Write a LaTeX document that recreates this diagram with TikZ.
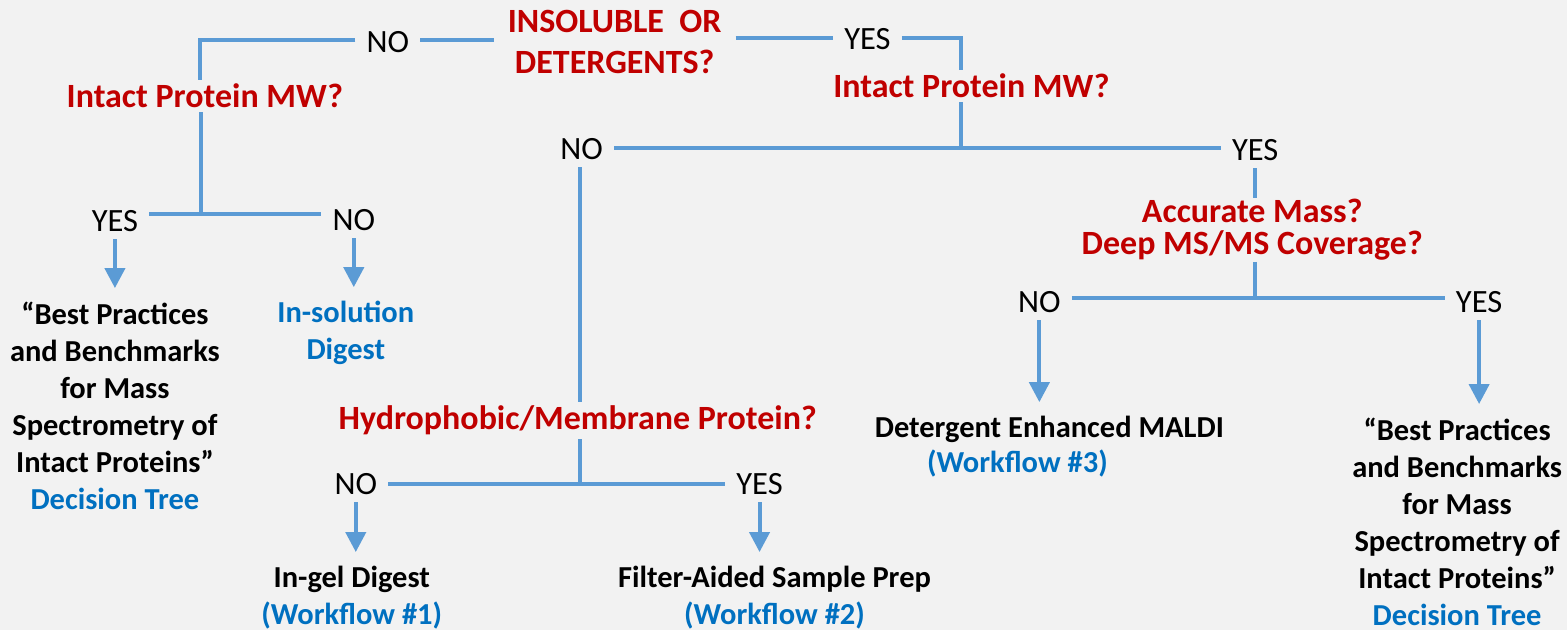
\documentclass[tikz,border=0pt]{standalone}
\usepackage{fontspec}
\setmainfont{Carlito}
\usepackage{tikz}
\usetikzlibrary{arrows.meta,positioning}
\definecolor{linkblue}{HTML}{5B9BD5}
\definecolor{askred}{HTML}{C00000}
\definecolor{refblue}{HTML}{0070C0}
\definecolor{paper}{HTML}{F2F2F2}

\begin{document}
\begin{tikzpicture}[x=1bp,y=-1bp,
  ask/.style={anchor=base,text=askred,align=center,inner xsep=14bp,inner ysep=4bp,
    font=\fontsize{34bp}{41bp}\selectfont\bfseries},
  ans/.style={anchor=base,inner xsep=11bp,inner ysep=7bp,font=\fontsize{32.5bp}{38bp}\selectfont},
  res/.style={anchor=base,align=center,inner xsep=6bp,inner ysep=14bp,
    font=\fontsize{30.5bp}{37bp}\selectfont\bfseries},
  link/.style={draw=linkblue,line width=4bp},
  flow/.style={link,-{Triangle[width=20bp,length=20bp]}}]
\fill[paper] (0,0) rectangle (1568,630);

% questions (base = last line)
\node (q0) [ask] at (615,74) {INSOLUBLE\ \ OR\\DETERGENTS?};
\node (qL) [ask] at (205,108) {Intact Protein MW?};
\node (qR) [ask] at (972,98) {Intact Protein MW?};
\node (qAcc) [ask,inner ysep=1bp,font=\fontsize{34bp}{32bp}\selectfont\bfseries] at (1253,255)
  {Accurate Mass?\\Deep MS/MS Coverage?};
\node (qHyd) [ask] at (578,430) {Hydrophobic/Membrane Protein?};

% answers
\node (noT) [ans] at (388,53) {NO};
\node (yesT) [ans] at (868,50) {YES};
\node (noM) [ans] at (582,160) {NO};
\node (yesM) [ans] at (1256,161) {YES};
\node (yesL) [ans] at (115,232) {YES};
\node (noL) [ans] at (354,231) {NO};
\node (noR) [ans] at (1040,313) {NO};
\node (yesR) [ans] at (1480,313) {YES};
\node (noB) [ans] at (356,495) {NO};
\node (yesB) [ans] at (760,495) {YES};

% results
\node (resL) [res] at (115,510) {“Best Practices\\and Benchmarks\\for Mass\\Spectrometry of\\Intact Proteins”\\\textcolor{refblue}{Decision Tree}};
\node (resSol) [res,text=refblue] at (346,360) {In-solution\\Digest};
\node (resGel) [res] at (352,625) {In-gel Digest\\\textcolor{refblue}{(Workflow \#1)}};
\node (resFasp) [res] at (775,625) {Filter-Aided Sample Prep\\\textcolor{refblue}{(Workflow \#2)}};
\node (resMaldi) [res] at (1050,438) {Detergent Enhanced MALDI};
\node (wfMaldi) [res,text=refblue] at (1018,473) {(Workflow \#3)};
\node (resR) [res] at (1458,626) {“Best Practices\\and Benchmarks\\for Mass\\Spectrometry of\\Intact Proteins”\\\textcolor{refblue}{Decision Tree}};

% corners and junctions
\coordinate (cTL) at (200,40);
\coordinate (cTR) at (962,38);
\coordinate (jM) at (962,148);
\coordinate (jL) at (201,214);
\coordinate (jR) at (1256,298);
\coordinate (jB) at (580,484);

% top
\draw[link] (q0.west |- cTL) -- (noT.east |- cTL);
\draw[link] (noT.west |- cTL) -- (cTL) -- (qL.north -| cTL);
\draw[link] (q0.east |- cTR) -- (yesT.west |- cTR);
\draw[link] (yesT.east |- cTR) -- (cTR) -- (qR.north -| cTR);
\draw[link] (qR.south -| jM) -- (jM);
\draw[link] (noM.east |- jM) -- (yesM.west |- jM);

% left branch
\draw[link] (qL.south -| jL) -- (jL);
\draw[link] (yesL.east |- jL) -- (noL.west |- jL);
\draw[flow] (yesL.south) -- (yesL.south |- resL.north);
\draw[flow] (noL.south) -- (noL.south |- resSol.north);

% middle branch
\draw[link] (noM.south -| jB) -- (qHyd.north -| jB);
\draw[link] (qHyd.south -| jB) -- (jB);
\draw[link] (noB.east |- jB) -- (yesB.west |- jB);
\draw[flow] (noB.south) -- (noB.south |- resGel.north);
\draw[flow] (yesB.south) -- (yesB.south |- resFasp.north);

% right branch
\draw[link] (yesM.south -| jR) -- (qAcc.north -| jR);
\draw[link] (qAcc.south -| jR) -- (jR);
\draw[link] (noR.east |- jR) -- (yesR.west |- jR);
\draw[flow] (noR.south) -- (noR.south |- resMaldi.north);
\draw[flow] (yesR.south) -- (yesR.south |- resR.north);
\end{tikzpicture}
\end{document}
